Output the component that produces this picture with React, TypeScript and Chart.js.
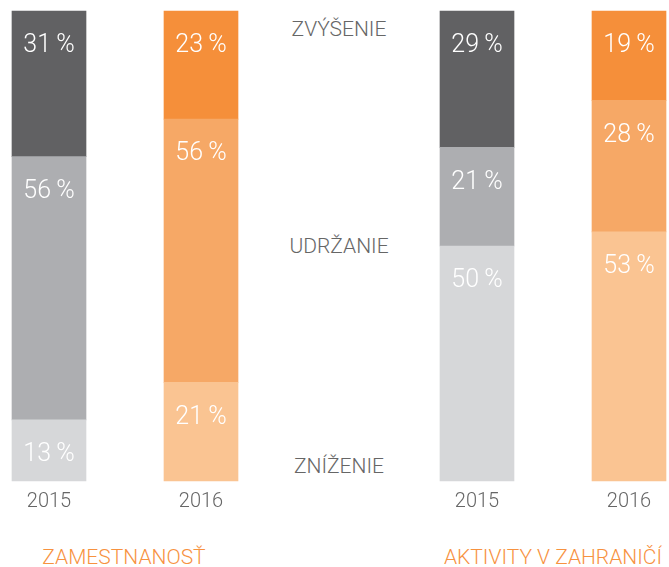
import React, { useEffect, useRef } from 'react';
import { Chart, registerables } from 'chart.js';

Chart.register(...registerables);

// ---- data ----
const years = ['2015', '2016'];
const employmentDecrease = [13, 21];
const employmentMaintain = [56, 56];
const employmentIncrease = [31, 23];
const abroadDecrease = [50, 53];
const abroadMaintain = [21, 28];
const abroadIncrease = [29, 19];
const rowLabels = ['ZVÝŠENIE', 'UDRŽANIE', 'ZNÍŽENIE'];
const groupTitles = ['ZAMESTNANOSŤ', 'AKTIVITY V ZAHRANIČÍ'];

// ---- styles ----
const FONT = 'Roboto, "Liberation Sans", Arial, sans-serif';
const decreaseColors = ['#d6d7d9', '#fac492'];
const maintainColors = ['#adaeb1', '#f6a866'];
const increaseColors = ['#616163', '#f58f3a'];
const GREY_TEXT = '#666666';
const ORANGE_TEXT = '#f7923f';

type StackProps = {
  decrease: number[];
  maintain: number[];
  increase: number[];
  padLeft: number;
  padRight: number;
};

function StackChart({ decrease, maintain, increase, padLeft, padRight }: StackProps) {
  const ref = useRef<HTMLCanvasElement | null>(null);

  useEffect(() => {
    if (!ref.current) return;
    const labelPlugin = {
      id: 'segLabels',
      afterDatasetsDraw(chart: any) {
        const ctx = chart.ctx;
        ctx.save();
        ctx.fillStyle = '#ffffff';
        ctx.font = `300 25px ${FONT}`;
        ctx.textAlign = 'center';
        ctx.textBaseline = 'middle';
        chart.data.datasets.forEach((ds: any, di: number) => {
          const meta = chart.getDatasetMeta(di);
          meta.data.forEach((el: any, i: number) => {
            const v = ds.data[i];
            const top = Math.min(el.y, el.base);
            ctx.fillText(`${v}\u2009%`, el.x, top + 35);
          });
        });
        ctx.restore();
      },
    };

    const chart = new Chart(ref.current, {
      type: 'bar',
      data: {
        labels: years,
        datasets: [
          { label: 'ZNÍŽENIE', data: decrease, backgroundColor: decreaseColors, borderWidth: 0, barThickness: 74, clip: false as any },
          { label: 'UDRŽANIE', data: maintain, backgroundColor: maintainColors, borderWidth: 0, barThickness: 74, clip: false as any },
          { label: 'ZVÝŠENIE', data: increase, backgroundColor: increaseColors, borderWidth: 0, barThickness: 74, clip: false as any },
        ],
      },
      options: {
        animation: false,
        responsive: true,
        maintainAspectRatio: false,
        layout: { padding: { left: padLeft, right: padRight, top: 11, bottom: 0 } },
        plugins: { legend: { display: false }, tooltip: { enabled: false } },
        scales: {
          x: {
            stacked: true,
            offset: false,
            border: { display: false },
            grid: { display: false, drawTicks: false },
            ticks: {
              color: GREY_TEXT,
              padding: 9,
              font: { family: FONT, size: 20, weight: '300' as any },
              maxRotation: 0,
            },
          },
          y: {
            stacked: true,
            display: false,
            min: 0,
            max: 100,
          },
        },
      },
      plugins: [labelPlugin],
    });
    return () => chart.destroy();
  }, [decrease, maintain, increase, padLeft, padRight]);

  return <canvas ref={ref} />;
}

const textStyle = (x: number, y: number, color: string): React.CSSProperties => ({
  position: 'absolute',
  left: x,
  top: y,
  transform: 'translate(-50%, -50%)',
  fontFamily: FONT,
  fontWeight: 300,
  fontSize: 21,
  lineHeight: '21px',
  color,
  whiteSpace: 'nowrap',
});

export default function App() {
  const rowY = [28.5, 246, 466];
  return (
    <div style={{ position: 'absolute', left: 0, top: 0, width: 669, height: 567, background: '#fff', overflow: 'hidden' }}>
      <div style={{ position: 'absolute', left: 0, top: 0, width: 250, height: 523 }}>
        <StackChart
          decrease={employmentDecrease}
          maintain={employmentMaintain}
          increase={employmentIncrease}
          padLeft={49}
          padRight={49}
        />
      </div>
      <div style={{ position: 'absolute', left: 428, top: 0, width: 241, height: 523 }}>
        <StackChart
          decrease={abroadDecrease}
          maintain={abroadMaintain}
          increase={abroadIncrease}
          padLeft={49}
          padRight={40}
        />
      </div>
      {rowLabels.map((t, i) => (
        <div key={t} style={textStyle(339, rowY[i], GREY_TEXT)}>{t}</div>
      ))}
      <div style={textStyle(124, 557, ORANGE_TEXT)}>{groupTitles[0]}</div>
      <div style={textStyle(553, 557, ORANGE_TEXT)}>{groupTitles[1]}</div>
    </div>
  );
}
